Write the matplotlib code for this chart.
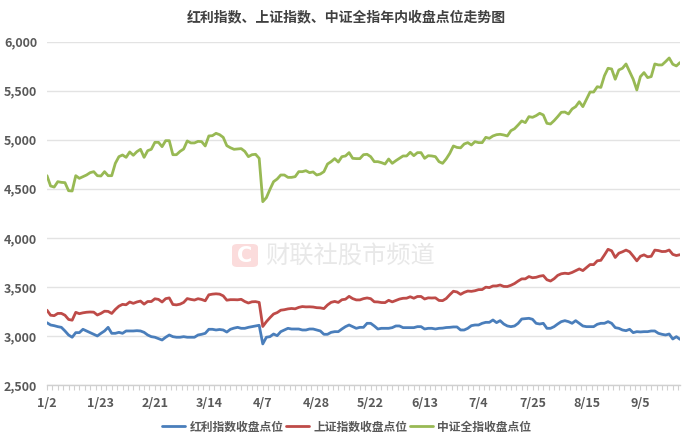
import matplotlib.pyplot as plt
import numpy as np
from matplotlib.patches import FancyBboxPatch

plt.rcParams["font.family"] = ["Noto Sans CJK SC", "DejaVu Sans"]

# Trading days 2025-01-02 .. 2025-09-22, one tick label every 15 days
tick_labels = ["1/2", "1/23", "2/21", "3/14", "4/7", "4/28",
               "5/22", "6/13", "7/4", "7/25", "8/15", "9/5"]

# 红利指数
dividend = [
    3135, 3112, 3105, 3095, 3088, 3051, 3010, 2987, 3034, 3034,
    3068, 3051, 3034, 3017, 3000, 3027, 3051, 3088, 3027, 3027,
    3037, 3027, 3051, 3051, 3051, 3054, 3051, 3037, 3010, 2993,
    2987, 2973, 2959, 2987, 3010, 2993, 2987, 2987, 2993, 2987,
    2987, 2987, 3010, 3017, 3027, 3068, 3068, 3061, 3066, 3061,
    3040, 3068, 3080, 3088, 3078, 3078, 3088, 3095, 3102, 3109,
    2919, 2987, 2993, 3020, 3003, 3044, 3061, 3078, 3071, 3071,
    3071, 3061, 3061, 3071, 3071, 3061, 3051, 3017, 3017, 3037,
    3044, 3044, 3071, 3095, 3112, 3095, 3078, 3088, 3088, 3129,
    3129, 3102, 3071, 3078, 3078, 3078, 3085, 3102, 3102, 3085,
    3085, 3085, 3085, 3095, 3095, 3071, 3078, 3078, 3071, 3078,
    3080, 3086, 3088, 3092, 3092, 3061, 3061, 3078, 3105, 3112,
    3112, 3129, 3139, 3139, 3163, 3136, 3156, 3122, 3102, 3095,
    3102, 3129, 3173, 3176, 3180, 3170, 3129, 3122, 3129, 3078,
    3078, 3095, 3122, 3146, 3156, 3146, 3129, 3156, 3129, 3102,
    3095, 3095, 3095, 3119, 3129, 3129, 3146, 3129, 3085, 3078,
    3061, 3054, 3068, 3034, 3044, 3041, 3044, 3044, 3051, 3051,
    3027, 3017, 3010, 3020, 2969, 2993, 2966,
]

# 上证指数
shanghai = [
    3262.56, 3211.43, 3206.92, 3229.64, 3230.17, 3211.39, 3168.52, 3160.76, 3240.94, 3227.12,
    3236.03, 3241.82, 3244.38, 3242.62, 3213.62, 3230.16, 3252.63, 3250.60, 3229.49, 3270.66,
    3303.67, 3322.17, 3318.06, 3346.39, 3332.48, 3346.72, 3355.83, 3324.49, 3351.54, 3350.78,
    3379.11, 3373.03, 3346.04, 3380.21, 3388.06, 3320.90, 3316.93, 3324.21, 3341.96, 3381.10,
    3372.55, 3366.16, 3379.83, 3371.92, 3358.73, 3419.56, 3426.43, 3429.76, 3426.43, 3408.95,
    3364.83, 3370.03, 3369.98, 3368.70, 3373.75, 3351.31, 3335.75, 3348.44, 3350.13, 3342.01,
    3096.58, 3145.55, 3186.81, 3223.64, 3238.23, 3262.81, 3267.66, 3276.00, 3280.34, 3276.73,
    3291.43, 3299.76, 3296.36, 3297.29, 3295.06, 3288.41, 3286.65, 3279.03, 3316.11, 3342.67,
    3352.00, 3342.00, 3369.24, 3374.87, 3403.95, 3380.82, 3367.46, 3367.58, 3380.48, 3387.57,
    3380.19, 3348.37, 3346.84, 3340.69, 3339.93, 3363.45, 3347.49, 3361.98, 3376.20, 3384.10,
    3385.36, 3399.77, 3384.82, 3402.32, 3402.66, 3377.00, 3388.73, 3386.99, 3388.81, 3362.11,
    3359.90, 3381.58, 3420.57, 3455.97, 3448.45, 3424.23, 3444.43, 3457.75, 3454.79, 3461.15,
    3472.32, 3473.13, 3497.48, 3493.05, 3509.68, 3510.18, 3519.65, 3505.00, 3503.78, 3516.83,
    3534.48, 3559.79, 3581.86, 3582.30, 3605.73, 3593.66, 3597.94, 3609.71, 3615.72, 3573.21,
    3559.95, 3583.31, 3617.60, 3633.99, 3639.67, 3635.13, 3647.55, 3665.92, 3683.46, 3666.44,
    3696.77, 3728.03, 3727.29, 3766.21, 3771.10, 3825.76, 3883.56, 3868.38, 3800.35, 3843.60,
    3857.93, 3875.53, 3858.13, 3813.56, 3765.88, 3812.51, 3826.84, 3807.29, 3812.22, 3875.31,
    3870.60, 3860.50, 3861.87, 3876.34, 3831.66, 3820.09, 3828.58,
]

# 中证全指
csi_all = [
    4634, 4529, 4518, 4573, 4566, 4563, 4481, 4478, 4634, 4607,
    4624, 4641, 4665, 4675, 4634, 4631, 4675, 4634, 4634, 4760,
    4828, 4845, 4821, 4876, 4842, 4879, 4903, 4821, 4889, 4903,
    4974, 4974, 4930, 4991, 4991, 4848, 4848, 4882, 4906, 4988,
    4968, 4968, 4984, 4981, 4937, 5039, 5042, 5066, 5052, 5025,
    4940, 4919, 4903, 4906, 4910, 4882, 4828, 4848, 4852, 4811,
    4369, 4410, 4495, 4573, 4600, 4641, 4641, 4617, 4617, 4624,
    4675, 4675, 4685, 4665, 4672, 4641, 4651, 4675, 4753, 4777,
    4808, 4773, 4828, 4835, 4869, 4811, 4808, 4808, 4848, 4852,
    4828, 4777, 4777, 4767, 4753, 4804, 4760, 4787, 4811, 4835,
    4835, 4873, 4838, 4869, 4869, 4811, 4838, 4835, 4828, 4777,
    4760, 4805, 4862, 4937, 4922, 4918, 4957, 4971, 4947, 4981,
    4971, 4971, 5025, 5015, 5039, 5052, 5056, 5049, 5039, 5093,
    5113, 5151, 5192, 5175, 5236, 5229, 5246, 5270, 5253, 5168,
    5161, 5195, 5236, 5280, 5283, 5263, 5314, 5338, 5388, 5338,
    5412, 5487, 5487, 5541, 5534, 5653, 5729, 5722, 5617, 5712,
    5729, 5773, 5695, 5617, 5508, 5644, 5685, 5634, 5644, 5773,
    5763, 5763, 5797, 5834, 5770, 5753, 5787,
]

series_names = ["红利指数收盘点位", "上证指数收盘点位", "中证全指收盘点位"]
colors = ["#4a7ebb", "#be4b48", "#98b954"]

fig = plt.figure(figsize=(6.93, 4.45), dpi=100)
ax = fig.add_axes([0.0678, 0.1348, 0.9134, 0.7715])

x = np.arange(len(shanghai))
for values, name, color in zip([dividend, shanghai, csi_all], series_names, colors):
    ax.plot(x, values, color=color, linewidth=2.0, label=name,
            solid_joinstyle="round", solid_capstyle="round")

ax.set_xlim(0, len(shanghai) - 1)
ax.set_ylim(2500, 6000)
ax.set_yticks(np.arange(2500, 6001, 500))
ax.yaxis.set_major_formatter(plt.FuncFormatter(lambda v, p: f"{v:,.0f}"))
ax.set_xticks(np.arange(0, len(shanghai), 15)[:len(tick_labels)])
ax.set_xticklabels(tick_labels)
ax.set_xticks(np.arange(0, len(shanghai), 1.5), minor=True)

ax.grid(axis="y", color="#e3e3e3", linewidth=1.0)
ax.set_axisbelow(True)
for side in ["top", "right", "left"]:
    ax.spines[side].set_visible(False)
ax.spines["bottom"].set_color("#d0d0d0")
ax.spines["bottom"].set_linewidth(1.0)

ax.tick_params(axis="y", length=0, pad=7, labelsize=9, labelcolor="#595959")
ax.tick_params(axis="x", which="both", direction="out", length=3.5,
               color="#d0d0d0", width=0.8)
ax.tick_params(axis="x", which="major", pad=5, labelsize=9, labelcolor="#595959")
for lab in ax.get_xticklabels() + ax.get_yticklabels():
    lab.set_fontweight("bold")

fig.text(0.5, 0.962, "红利指数、上证指数、中证全指年内收盘点位走势图",
         ha="center", va="center", fontsize=10, fontweight="bold", color="#404040")

# watermark
logo = FancyBboxPatch((232 / 693, 1 - 267 / 445), 26 / 693, 23 / 445,
                      boxstyle="round,pad=0,rounding_size=0.008",
                      transform=fig.transFigure, facecolor="#fbdcdc",
                      edgecolor="none", zorder=0)
fig.patches.append(logo)
fig.text(245 / 693, 1 - 255.5 / 445, "C", ha="center", va="center",
         fontsize=15, fontweight="bold", color="white", family="DejaVu Sans")
fig.text(265 / 693, 1 - 256 / 445, "财联社股市频道", ha="left", va="center",
         fontsize=17.5, color="#e8e8e8")

leg = fig.legend(loc="center", bbox_to_anchor=(0.5, 1 - 427 / 445), ncol=3,
                 frameon=False, fontsize=8.5, handlelength=2.0,
                 handletextpad=0.35, columnspacing=0.2)
for t in leg.get_texts():
    t.set_color("#595959")
    t.set_fontweight("bold")

fig.savefig("out.png", dpi=100)
